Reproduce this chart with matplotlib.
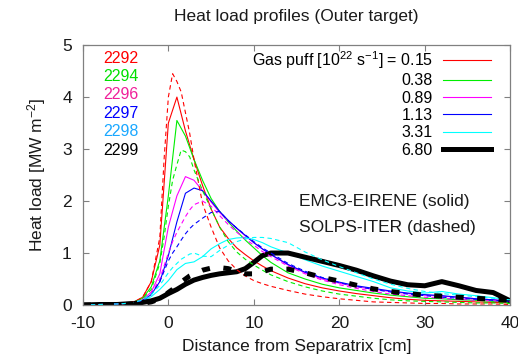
import numpy as np
import matplotlib
matplotlib.use('Agg')
import matplotlib.pyplot as plt

plt.rcParams['font.family'] = ['Liberation Sans', 'DejaVu Sans']
plt.rcParams['mathtext.fontset'] = 'custom'
plt.rcParams['mathtext.rm'] = 'Liberation Sans'
plt.rcParams['mathtext.it'] = 'Liberation Sans'
plt.rcParams['axes.unicode_minus'] = False

# distance from separatrix [cm]
x_emc = [-10, -8, -6, -5, -4, -3, -2, -1, 0, 1, 2, 3, 4, 5, 6, 7, 8, 9, 10, 11, 12,
         14, 16, 18, 20, 22, 24, 26, 28, 30, 32, 34, 36, 38, 40]
x_solps = [-10, -8, -6, -5, -4, -3, -2, -1, -0.5, 0, 0.5, 1, 1.5, 2, 2.5, 3, 4, 5, 6, 7, 8,
           9, 10, 11, 12, 14, 16, 18, 20, 22, 24, 26, 28, 30, 32, 34, 36, 38, 40]

runs = ['2292', '2294', '2296', '2297', '2298', '2299']
puff = ['0.15', '0.38', '0.89', '1.13', '3.31', '6.80']

# EMC3-EIRENE heat load [MW m^-2]
emc_2292 = [0.0, 0.01, 0.02, 0.03, 0.06, 0.15, 0.45, 1.15, 3.5, 4.0, 3.35, 2.8, 2.3, 1.85,
            1.5, 1.28, 1.1, 0.97, 0.85, 0.75, 0.66, 0.52, 0.41, 0.33, 0.27, 0.22, 0.18,
            0.14, 0.11, 0.09, 0.08, 0.07, 0.06, 0.05, 0.04]
emc_2294 = [0.0, 0.01, 0.02, 0.03, 0.06, 0.13, 0.35, 0.85, 2.1, 3.55, 3.25, 2.8, 2.4, 2.05,
            1.8, 1.6, 1.42, 1.25, 1.1, 0.95, 0.82, 0.62, 0.5, 0.4, 0.33, 0.28, 0.23,
            0.19, 0.16, 0.13, 0.12, 0.1, 0.09, 0.07, 0.05]
emc_2296 = [0.0, 0.01, 0.02, 0.03, 0.05, 0.1, 0.25, 0.6, 1.5, 2.1, 2.47, 2.4, 2.2, 1.98,
            1.78, 1.62, 1.47, 1.33, 1.2, 1.08, 0.97, 0.77, 0.62, 0.5, 0.42, 0.35, 0.3,
            0.26, 0.22, 0.19, 0.17, 0.15, 0.12, 0.1, 0.07]
emc_2297 = [0.0, 0.01, 0.02, 0.03, 0.05, 0.09, 0.2, 0.45, 0.95, 1.6, 2.15, 2.25, 2.2, 2.0,
            1.8, 1.63, 1.48, 1.34, 1.2, 1.08, 0.97, 0.78, 0.63, 0.52, 0.44, 0.37, 0.32,
            0.27, 0.23, 0.2, 0.18, 0.15, 0.12, 0.1, 0.07]
emc_2298 = [0.0, 0.01, 0.02, 0.03, 0.05, 0.08, 0.16, 0.3, 0.47, 0.68, 0.8, 0.83, 0.93, 1.08,
            1.18, 1.26, 1.29, 1.3, 1.26, 1.2, 1.12, 1.0, 0.87, 0.75, 0.65, 0.55, 0.45,
            0.33, 0.27, 0.23, 0.26, 0.21, 0.18, 0.14, 0.1]
emc_2299 = [0.0, 0.01, 0.01, 0.02, 0.03, 0.05, 0.08, 0.13, 0.22, 0.3, 0.4, 0.48, 0.53, 0.57,
            0.6, 0.62, 0.64, 0.7, 0.82, 0.95, 1.0, 1.0, 0.92, 0.84, 0.76, 0.67, 0.56,
            0.46, 0.39, 0.37, 0.45, 0.37, 0.28, 0.24, 0.08]

# SOLPS-ITER heat load [MW m^-2]
solps_2292 = [0.0, 0.01, 0.02, 0.03, 0.06, 0.15, 0.45, 1.3, 2.8, 4.0, 4.45, 4.3, 4.1, 3.7,
              3.3, 2.8, 1.95, 1.5, 1.1, 0.85, 0.68, 0.56, 0.47, 0.41, 0.36, 0.28, 0.21,
              0.16, 0.12, 0.09, 0.06, 0.05, 0.04, 0.03, 0.03, 0.02, 0.02, 0.02, 0.01]
solps_2294 = [0.0, 0.01, 0.02, 0.03, 0.05, 0.12, 0.3, 0.8, 1.3, 1.9, 2.4, 2.7, 2.98, 2.95,
              2.85, 2.6, 2.2, 1.85, 1.5, 1.22, 1.02, 0.88, 0.77, 0.67, 0.58, 0.45, 0.35,
              0.27, 0.21, 0.17, 0.13, 0.1, 0.08, 0.07, 0.06, 0.05, 0.04, 0.04, 0.03]
solps_2296 = [0.0, 0.01, 0.02, 0.03, 0.05, 0.1, 0.22, 0.5, 0.75, 1.0, 1.22, 1.4, 1.55, 1.7,
              1.83, 1.93, 2.0, 1.9, 1.72, 1.55, 1.4, 1.27, 1.15, 1.03, 0.93, 0.75, 0.6,
              0.48, 0.39, 0.32, 0.26, 0.21, 0.18, 0.15, 0.13, 0.11, 0.09, 0.08, 0.06]
solps_2297 = [0.0, 0.01, 0.02, 0.03, 0.05, 0.09, 0.2, 0.45, 0.65, 0.85, 1.0, 1.12, 1.25, 1.37,
              1.47, 1.55, 1.67, 1.78, 1.8, 1.62, 1.48, 1.35, 1.22, 1.1, 1.0, 0.8, 0.65,
              0.53, 0.43, 0.36, 0.3, 0.25, 0.21, 0.18, 0.15, 0.13, 0.11, 0.09, 0.07]
solps_2298 = [0.0, 0.01, 0.02, 0.03, 0.05, 0.1, 0.2, 0.38, 0.5, 0.62, 0.72, 0.8, 0.88, 0.93,
              0.98, 1.0, 0.94, 0.93, 1.05, 1.15, 1.22, 1.27, 1.3, 1.3, 1.28, 1.2, 1.02,
              0.87, 0.74, 0.62, 0.5, 0.4, 0.32, 0.26, 0.22, 0.19, 0.16, 0.13, 0.1]
solps_2299 = [0.0, 0.0, 0.01, 0.01, 0.02, 0.03, 0.06, 0.12, 0.17, 0.24, 0.3, 0.37, 0.44, 0.5,
              0.56, 0.6, 0.67, 0.71, 0.72, 0.7, 0.65, 0.6, 0.6, 0.64, 0.69, 0.69, 0.62,
              0.53, 0.46, 0.38, 0.31, 0.26, 0.22, 0.19, 0.17, 0.15, 0.13, 0.11, 0.09]

emc = [emc_2292, emc_2294, emc_2296, emc_2297, emc_2298, emc_2299]
solps = [solps_2292, solps_2294, solps_2296, solps_2297, solps_2298, solps_2299]
colors = ['#ff0000', '#00ee00', '#ff00ff', '#0000ff', '#00ffff', '#000000']
run_colors = ['#ff0000', '#00e000', '#f0209a', '#0000ff', '#1aa8ff', '#000000']
widths = [0.8, 0.8, 0.8, 0.8, 0.8, 3.6]

fig = plt.figure(figsize=(5.18, 3.58), dpi=100)
ax = fig.add_axes([0.160, 0.148, 0.825, 0.726])

handles = []
for i in range(6):
    h, = ax.plot(x_emc, emc[i], color=colors[i], lw=widths[i])
    handles.append(h)
for i in range(6):
    if i < 5:
        ax.plot(x_solps, solps[i], color=colors[i], lw=widths[i], dashes=(4, 3))
    else:
        ax.plot(x_solps, solps[i], color=colors[i], lw=widths[i], dashes=(1.6, 2.7))

ax.set_xlim(-10, 40)
ax.set_ylim(0, 5)
ax.set_xticks(np.arange(-10, 41, 10))
ax.set_yticks(np.arange(0, 6, 1))
for s in ax.spines.values():
    s.set_color('#808080')
    s.set_linewidth(0.9)
ax.tick_params(direction='in', top=True, right=True, length=4, width=0.8,
               color='#808080', labelsize=12.5, pad=8, labelcolor='#1a1a1a')

ax.set_title('Heat load profiles (Outer target)', fontsize=12.5, pad=17, color='#1a1a1a')
ax.set_xlabel('Distance from Separatrix [cm]', fontsize=12.5, labelpad=6, color='#1a1a1a')
ax.set_ylabel('Heat load [MW m$^{-2}$]', fontsize=12.5, labelpad=10, color='#1a1a1a')

labels = ['Gas puff [10$^{22}$ s$^{-1}$] = ' + puff[0]] + puff[1:]
ax.legend(handles, labels, loc='upper right', bbox_to_anchor=(0.98, 1.028),
          frameon=False, markerfirst=False, fontsize=11.5, handlelength=2.95,
          handletextpad=0.66, labelspacing=0.15, borderaxespad=0.3)

for i, r in enumerate(runs):
    ax.text(0.089, 0.95 - i * 0.0708, r, transform=ax.transAxes, color=run_colors[i],
            fontsize=11.5, ha='center', va='center')

ax.text(0.505, 0.40, 'EMC3-EIRENE (solid)', transform=ax.transAxes, fontsize=12.5,
        va='center', color='#1a1a1a')
ax.text(0.505, 0.30, 'SOLPS-ITER (dashed)', transform=ax.transAxes, fontsize=12.5,
        va='center', color='#1a1a1a')

fig.savefig('out.png', dpi=100)
